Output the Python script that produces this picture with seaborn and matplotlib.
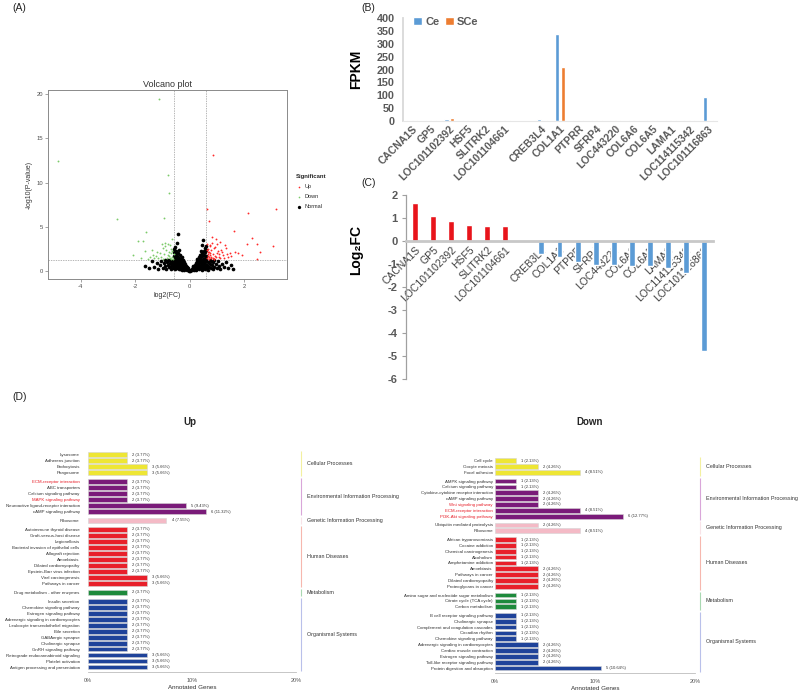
import numpy as np
import pandas as pd
import matplotlib
matplotlib.use("Agg")
import matplotlib.pyplot as plt
import seaborn as sns

# ---------------------------------------------------------------- data
# (A) volcano plot points (log2FC, -log10 P)
up_points = [(0.86, 13.1), (0.61, 7.0), (3.17, 7.0), (0.70, 5.6), (2.12, 6.6), (1.60, 4.5),
             (2.27, 3.7), (2.45, 3.0), (3.04, 2.8), (2.09, 3.0), (2.45, 1.4), (2.58, 2.2),
             (1.47, 2.0), (1.66, 2.2), (1.28, 2.9), (1.10, 3.3), (0.95, 3.6), (0.80, 3.9),
             (0.75, 2.8), (0.68, 2.5), (0.65, 2.1), (0.72, 1.8), (0.88, 2.6), (1.02, 2.3),
             (1.15, 2.4), (1.35, 1.9), (0.62, 1.5), (0.66, 1.7), (0.70, 2.2), (0.78, 1.6),
             (0.83, 1.9), (0.90, 1.4), (0.98, 2.0), (1.05, 1.6), (1.20, 1.8), (0.64, 3.1),
             (0.73, 2.9), (0.81, 3.2), (0.92, 2.7), (1.00, 3.0), (0.69, 1.35), (0.77, 1.45),
             (0.85, 1.5), (0.93, 1.7), (1.12, 1.5), (1.25, 1.45), (1.40, 1.6), (0.63, 2.4),
             (0.67, 1.9), (0.74, 2.0), (0.87, 1.4), (0.96, 1.55), (1.08, 1.9), (1.18, 2.2),
             (1.32, 2.6), (0.71, 1.6), (0.79, 2.35), (1.52, 1.7), (1.75, 2.0), (1.90, 1.8)]
down_points = [(-1.13, 19.4), (-4.82, 12.4), (-0.82, 10.9), (-0.76, 8.8), (-2.67, 5.9),
               (-0.96, 6.0), (-1.60, 4.4), (-1.90, 3.4), (-1.72, 3.4), (-2.09, 1.8),
               (-1.66, 2.3), (-0.80, 3.1), (-0.74, 2.9), (-0.90, 3.2), (-0.65, 3.6),
               (-1.00, 2.6), (-1.20, 2.1), (-1.35, 1.8), (-1.45, 1.6), (-0.70, 2.5),
               (-0.68, 2.0), (-0.75, 1.7), (-0.85, 1.5), (-0.95, 1.9), (-1.05, 1.6),
               (-1.15, 1.5), (-0.62, 1.4), (-0.66, 1.6), (-0.72, 1.45), (-0.78, 2.2),
               (-0.88, 2.4), (-0.98, 1.4), (-1.08, 2.0), (-1.25, 1.7), (-1.55, 1.4),
               (-1.40, 2.4), (-0.64, 2.3), (-0.70, 1.35), (-0.82, 1.8), (-0.92, 2.8),
               (-1.02, 3.0), (-0.60, 1.9), (-1.30, 1.45), (-1.80, 1.5)]
normal_points = [
    (-0.02, 0.05), (-0.05, 0.12), (-0.06, 0.3), (-0.09, 0.18), (-0.1, 0.45), (-0.12, 0.08),
    (-0.13, 0.32), (-0.14, 0.62), (-0.16, 0.2), (-0.17, 0.5), (-0.18, 0.8), (-0.2, 0.12),
    (-0.21, 0.38), (-0.22, 0.66), (-0.23, 0.98), (-0.25, 0.25), (-0.26, 0.52), (-0.27, 0.82),
    (-0.28, 1.15), (-0.3, 0.15), (-0.31, 0.4), (-0.32, 0.68), (-0.33, 0.95), (-0.34, 1.32),
    (-0.36, 0.28), (-0.37, 0.55), (-0.38, 0.85), (-0.39, 1.12), (-0.4, 1.5), (-0.41, 0.18),
    (-0.42, 0.42), (-0.43, 0.7), (-0.44, 1.0), (-0.45, 1.3), (-0.46, 1.72), (-0.47, 0.3),
    (-0.48, 0.58), (-0.49, 0.88), (-0.5, 1.18), (-0.51, 1.48), (-0.52, 1.95), (-0.53, 0.2),
    (-0.54, 0.45), (-0.55, 0.75), (-0.56, 1.05), (-0.56, 1.35), (-0.57, 1.65), (-0.57, 2.2),
    (-0.58, 0.6), (-0.58, 0.95), (-0.59, 1.25), (-0.59, 2.5), (-0.55, 2.0), (-0.5, 2.3),
    (-0.45, 2.05), (-0.53, 2.75), (-0.49, 3.2), (-0.45, 4.2), (-0.4, 2.4), (-0.35, 1.8),
    (-0.3, 1.6), (-0.25, 1.3),
    (0.02, 0.04), (0.04, 0.15), (0.07, 0.28), (0.08, 0.1), (0.1, 0.4), (0.11, 0.2),
    (0.13, 0.55), (0.15, 0.12), (0.15, 0.35), (0.17, 0.72), (0.19, 0.25), (0.2, 0.5),
    (0.21, 0.9), (0.23, 0.15), (0.24, 0.4), (0.25, 0.7), (0.26, 1.1), (0.28, 0.3),
    (0.29, 0.58), (0.3, 0.88), (0.31, 1.25), (0.33, 0.18), (0.34, 0.45), (0.35, 0.72),
    (0.36, 1.02), (0.37, 1.45), (0.39, 0.3), (0.4, 0.6), (0.41, 0.9), (0.42, 1.2),
    (0.43, 1.65), (0.45, 0.15), (0.46, 0.45), (0.47, 0.75), (0.48, 1.05), (0.49, 1.35),
    (0.5, 1.85), (0.51, 0.3), (0.52, 0.6), (0.53, 0.9), (0.54, 1.2), (0.55, 1.5),
    (0.55, 2.1), (0.56, 0.2), (0.57, 0.45), (0.57, 0.8), (0.58, 1.1), (0.58, 1.4),
    (0.59, 1.75), (0.59, 2.4), (0.52, 2.25), (0.46, 2.0), (0.44, 2.9), (0.49, 3.5),
    (0.54, 2.6), (0.38, 1.85), (0.32, 1.55), (0.27, 1.4), (0.4, 2.3), (0.58, 2.8),
    (0.62, 0.3), (0.64, 0.7), (0.66, 1.0), (0.68, 0.15), (0.7, 0.5), (0.72, 0.85),
    (0.74, 1.2), (0.76, 0.35), (0.8, 0.65), (0.83, 1.0), (0.86, 0.2), (0.9, 0.5),
    (0.94, 0.85), (0.98, 0.3), (1.02, 1.1), (1.06, 0.6), (1.12, 0.25), (1.18, 0.8),
    (1.25, 0.45), (1.32, 1.0), (1.4, 0.3), (1.5, 0.7), (1.58, 0.2), (0.78, 1.15), (0.88, 1.2),
    (-0.62, 0.35), (-0.64, 0.8), (-0.66, 1.1), (-0.68, 0.2), (-0.7, 0.55), (-0.72, 0.9),
    (-0.74, 1.25), (-0.77, 0.4), (-0.8, 0.7), (-0.84, 1.05), (-0.87, 0.25), (-0.9, 0.6),
    (-0.95, 0.95), (-1.0, 0.35), (-1.04, 1.15), (-1.1, 0.65), (-1.16, 0.2), (-1.22, 0.9),
    (-1.3, 0.5), (-1.4, 1.1), (-1.5, 0.35), (-1.65, 0.6), (-0.79, 1.2), (-0.92, 1.25)]

# (B)/(C) genes (" " slot = empty gap between up and down genes)
genes = ["CACNA1S", "GP5", "LOC101102392", "HSF5", "SLITRK2", "LOC101104661", " ",
         "CREB3L4", "COL1A1", "PTPRR", "SFRP4", "LOC443220", "COL6A6", "COL6A5",
         "LAMA1", "LOC114115342", "LOC101116863"]
fpkm_ce = [3, 3, 7, 3, 3, 4, None, 8, 338, 3, 3, 3, 3, 3, 3, 4, 95]
fpkm_sce = [3, 3, 11, 3, 3, 3, None, 5, 208, 3, 3, 3, 3, 3, 3, 3, 4]
logfc = [1.65, 1.06, 0.85, 0.70, 0.66, 0.66, None, -0.58, -0.72, -0.91, -1.04, -1.05,
         -1.09, -1.12, -1.19, -1.40, -4.79]

# (D) KEGG classification
group_names = ["Cellular Processes", "Environmental Information Processing",
               "Genetic Information Processing", "Human Diseases", "Metabolism",
               "Organismal Systems"]
up_terms = ["Lysosome", "Adherens junction", "Endocytosis", "Phagosome",
            "ECM-receptor interaction", "ABC transporters", "Calcium signaling pathway",
            "MAPK signaling pathway", "Neuroactive ligand-receptor interaction",
            "cAMP signaling pathway",
            "Ribosome",
            "Autoimmune thyroid disease", "Graft-versus-host disease", "Legionellosis",
            "Bacterial invasion of epithelial cells", "Allograft rejection", "Amoebiasis",
            "Dilated cardiomyopathy", "Epstein-Barr virus infection", "Viral carcinogenesis",
            "Pathways in cancer",
            "Drug metabolism - other enzymes",
            "Insulin secretion", "Chemokine signaling pathway", "Estrogen signaling pathway",
            "Adrenergic signaling in cardiomyocytes", "Leukocyte transendothelial migration",
            "Bile secretion", "GABAergic synapse", "Cholinergic synapse",
            "GnRH signaling pathway", "Retrograde endocannabinoid signaling",
            "Platelet activation", "Antigen processing and presentation"]
up_counts = [2, 2, 3, 3,
             2, 2, 2, 2, 5, 6,
             4,
             2, 2, 2, 2, 2, 2, 2, 2, 3, 3,
             2,
             2, 2, 2, 2, 2, 2, 2, 2, 2, 3, 3, 3]
up_group_sizes = [4, 6, 1, 10, 1, 12]
up_total = 53
up_red_terms = ["ECM-receptor interaction", "MAPK signaling pathway"]

down_terms = ["Cell cycle", "Oocyte meiosis", "Focal adhesion",
              "AMPK signaling pathway", "Calcium signaling pathway",
              "Cytokine-cytokine receptor interaction", "cAMP signaling pathway",
              "Wnt signaling pathway", "ECM-receptor interaction",
              "PI3K-Akt signaling pathway",
              "Ubiquitin mediated proteolysis", "Ribosome",
              "African trypanosomiasis", "Cocaine addiction", "Chemical carcinogenesis",
              "Alcoholism", "Amphetamine addiction", "Amoebiasis", "Pathways in cancer",
              "Dilated cardiomyopathy", "Proteoglycans in cancer",
              "Amino sugar and nucleotide sugar metabolism", "Citrate cycle (TCA cycle)",
              "Carbon metabolism",
              "B cell receptor signaling pathway", "Cholinergic synapse",
              "Complement and coagulation cascades", "Circadian rhythm",
              "Chemokine signaling pathway", "Adrenergic signaling in cardiomyocytes",
              "Cardiac muscle contraction", "Estrogen signaling pathway",
              "Toll-like receptor signaling pathway", "Protein digestion and absorption"]
down_counts = [1, 2, 4,
               1, 1, 2, 2, 2, 4, 6,
               2, 4,
               1, 1, 1, 1, 1, 2, 2, 2, 2,
               1, 1, 1,
               1, 1, 1, 1, 1, 2, 2, 2, 2, 5]
down_group_sizes = [3, 7, 2, 9, 3, 10]
down_total = 47
down_red_terms = ["Wnt signaling pathway", "ECM-receptor interaction",
                  "PI3K-Akt signaling pathway"]

bar_colors = dict(zip(group_names, ["#EEE634", "#7A1B79", "#F4BAC6", "#E8202A",
                                    "#1E8A3C", "#1F439A"]))
line_colors = dict(zip(group_names, ["#F3F0A0", "#D9A6D9", "#F8E3E8", "#F6B7AE",
                                     "#A9D8B2", "#B9C0EA"]))

# ---------------------------------------------------------------- figure
sns.set_theme(style="white")
plt.rcParams["font.family"] = ["Liberation Sans", "DejaVu Sans"]
plt.rcParams["axes.unicode_minus"] = False
NARROW = ["Liberation Sans Narrow", "Liberation Sans", "DejaVu Sans"]

W, H = 798, 692
fig = plt.figure(figsize=(W / 100, H / 100), dpi=100)


def px_axes(l, t, r, b):
    return fig.add_axes([l / W, 1 - b / H, (r - l) / W, (b - t) / H])


# ---------------- (A) volcano
axA = px_axes(48, 90, 287, 279)
norm_df = pd.DataFrame(normal_points, columns=["x", "y"])
up_df = pd.DataFrame(up_points, columns=["x", "y"])
down_df = pd.DataFrame(down_points, columns=["x", "y"])
sns.scatterplot(data=norm_df, x="x", y="y", color="black", s=7, linewidth=0,
                ax=axA, label="Normal", zorder=2)
sns.scatterplot(data=up_df, x="x", y="y", color="#FF2A2A", s=1.8, linewidth=0,
                ax=axA, label="Up", zorder=3)
sns.scatterplot(data=down_df, x="x", y="y", color="#7CCB6A", s=1.8, linewidth=0,
                ax=axA, label="Down", zorder=3)
for xv in (-0.585, 0.585):
    axA.axvline(xv, color="#9a9a9a", lw=0.5, ls=(0, (2, 1.5)), zorder=1)
axA.axhline(1.3, color="#9a9a9a", lw=0.5, ls=(0, (2, 1.5)), zorder=1)
axA.set_xlim(-5.2, 3.56)
axA.set_ylim(-0.9, 20.45)
axA.set_xticks([-4, -2, 0, 2])
axA.set_yticks([0, 5, 10, 15, 20])
axA.tick_params(labelsize=4.2, labelcolor="#4d4d4d", length=2, width=0.5,
                color="#7f7f7f", pad=1.5, bottom=True, left=True)
for s in axA.spines.values():
    s.set_color("#8a8a8a")
    s.set_linewidth(0.7)
axA.set_title("Volcano plot", fontsize=6.5, pad=2, color="#333333")
axA.set_xlabel("log2(FC)", fontsize=5, labelpad=2, color="#333333")
axA.set_ylabel("-log10(P-value)", fontsize=5, labelpad=3, color="#333333")
h, l = axA.get_legend_handles_labels()
order = [l.index("Up"), l.index("Down"), l.index("Normal")]
leg = axA.legend([h[i] for i in order], [l[i] for i in order], title="Significant",
                 loc="upper left", bbox_to_anchor=(291 / W, 1 - 169 / H),
                 bbox_transform=fig.transFigure, fontsize=4, title_fontsize=4.3,
                 frameon=False, markerscale=0.9, handletextpad=0.3, labelspacing=0.9,
                 handlelength=1.2, alignment="left")
leg.get_title().set_fontweight("bold")

# ---------------- (B) FPKM bars
axB = px_axes(403, 18, 717, 121)
rows = []
for g, c, s_ in zip(genes, fpkm_ce, fpkm_sce):
    if c is not None:
        rows.append((g, "Ce", c))
        rows.append((g, "SCe", s_))
dfB = pd.DataFrame(rows, columns=["gene", "sample", "fpkm"])
sns.barplot(data=dfB, x="gene", y="fpkm", hue="sample", order=genes,
            hue_order=["Ce", "SCe"], palette={"Ce": "#5B9BD5", "SCe": "#ED7D31"},
            width=0.6, gap=0.2, errorbar=None, saturation=1, ax=axB)
axB.set_xlim(-0.5, len(genes) - 0.5)
axB.set_ylim(0, 400)
axB.set_yticks(range(0, 401, 50))
axB.set_xticks(range(len(genes)))
axB.set_xticklabels(genes, rotation=45, ha="right", rotation_mode="anchor",
                    fontsize=7.5, fontweight="bold", color="#595959")
for t in axB.get_yticklabels():
    t.set_fontweight("bold")
axB.tick_params(axis="y", labelsize=7.8, labelcolor="#595959", length=0, pad=6)
axB.tick_params(axis="x", length=0, pad=2)
for k in ("top", "right"):
    axB.spines[k].set_visible(False)
axB.spines["left"].set_color("#d9d9d9")
axB.spines["left"].set_linewidth(1.3)
axB.spines["bottom"].set_color("#e6e6e6")
axB.spines["bottom"].set_linewidth(0.8)
axB.set_xlabel("")
axB.set_ylabel("FPKM", fontsize=10, fontweight="bold", color="black")
axB.yaxis.set_label_coords(-0.128, 0.5)
sns.move_legend(axB, "upper left", bbox_to_anchor=(0.0, 1.11), ncol=2, title=None,
                frameon=False, fontsize=8, handlelength=0.8, handleheight=0.8,
                handletextpad=0.3, columnspacing=0.5)
for t in axB.get_legend().get_texts():
    t.set_fontweight("bold")
    t.set_color("#595959")

# ---------------- (C) log2FC bars
axC = px_axes(406, 194.7, 713, 378.7)
dfC = pd.DataFrame([(g, v) for g, v in zip(genes, logfc) if v is not None],
                   columns=["gene", "logfc"])
palC = {g: ("#E8141B" if v > 0 else "#5B9BD5") for g, v in zip(dfC.gene, dfC.logfc)}
sns.barplot(data=dfC, x="gene", y="logfc", hue="gene", order=genes,
            hue_order=list(dfC.gene), palette=palC, width=0.33, dodge=False,
            errorbar=None, legend=False, saturation=1, ax=axC)
axC.set_xlim(-0.5, len(genes) - 0.5)
axC.set_ylim(-6, 2)
axC.set_yticks(range(-6, 3))
axC.spines["bottom"].set_position(("data", 0))
axC.spines["bottom"].set_color("#c8c8c8")
axC.spines["bottom"].set_linewidth(2)
axC.spines["left"].set_color("#a0a0a0")
axC.spines["left"].set_linewidth(0.9)
for k in ("top", "right"):
    axC.spines[k].set_visible(False)
axC.set_xticks(range(len(genes)))
axC.set_xticklabels(genes, rotation=45, ha="right", rotation_mode="anchor",
                    fontsize=7.5, color="#404040")
axC.tick_params(axis="x", length=0, pad=3)
axC.tick_params(axis="y", labelsize=8, labelcolor="#595959", length=3, width=0.8,
                color="#a0a0a0", direction="out", left=True, pad=3)
for t in axC.get_yticklabels():
    t.set_fontweight("bold")
axC.set_xlabel("")
axC.set_ylabel("Log₂FC", fontsize=10, fontweight="bold", color="black")
axC.yaxis.set_label_coords(-0.14, 0.70)


# ---------------- (D) KEGG classification
def kegg_panel(rect, terms, counts, sizes, total, red_terms, tick_pad, ylim):
    ax = px_axes(*rect)
    groups, ypos = [], []
    pos = 0.0
    spans = []
    for gname, n in zip(group_names, sizes):
        start = pos
        for _ in range(n):
            groups.append(gname)
            ypos.append(pos)
            pos += 1
        spans.append((gname, start, pos - 1))
        pos += 0.5
    pct = [c / total * 100 for c in counts]
    df = pd.DataFrame({"pct": pct, "y": ypos, "group": groups})
    sns.barplot(data=df, x="pct", y="y", hue="group", orient="h", native_scale=True,
                palette=bar_colors, dodge=False, width=0.8, legend=False,
                edgecolor="#d4d4d4", linewidth=0.4, errorbar=None, saturation=1, ax=ax)
    for c, p, y in zip(counts, pct, ypos):
        ax.text(p + 0.5, y, f"{c} ({p:.2f}%)", va="center", ha="left", fontsize=3.0,
                color="#333333", family=NARROW)
    for gname, a, b in spans:
        ax.plot([20.5, 20.5], [a - 0.6, b + 0.6], color=line_colors[gname], lw=0.8,
                clip_on=False, solid_capstyle="butt")
        ax.text(21.05, (a + b) / 2, gname, va="center", ha="left", fontsize=3.9,
                color="#333333", family=NARROW, clip_on=False)
    ax.set_xlim(0, 20)
    ax.set_ylim(*ylim)
    ax.set_yticks(ypos)
    ax.set_yticklabels(terms, fontsize=3.2, family=NARROW, color="#333333")
    for t in ax.get_yticklabels():
        if t.get_text() in red_terms:
            t.set_color("#E8202A")
    ax.set_xticks([0, 10, 20])
    ax.set_xticklabels(["0%", "10%", "20%"], fontsize=4, color="#555555", family=NARROW)
    ax.tick_params(axis="y", length=0, pad=tick_pad)
    ax.tick_params(axis="x", length=0, pad=4)
    for k in ("top", "right", "left"):
        ax.spines[k].set_visible(False)
    ax.spines["bottom"].set_color("#bdbdbd")
    ax.spines["bottom"].set_linewidth(0.6)
    ax.set_xlabel("Annotated Genes", fontsize=4.5, color="#333333", labelpad=2,
                  family=NARROW)
    ax.set_ylabel("")
    return ax


kegg_panel((88, 449, 296, 672), up_terms, up_counts, up_group_sizes, up_total,
           up_red_terms, 6.0, (36.33, -0.95))
kegg_panel((495, 456, 695, 673), down_terms, down_counts, down_group_sizes, down_total,
           down_red_terms, 1.5, (36.35, -0.8))

fig.text(190 / W, 1 - 422 / H, "Up", ha="center", va="center", fontsize=7,
         fontweight="bold")
fig.text(590 / W, 1 - 422 / H, "Down", ha="center", va="center", fontsize=7,
         fontweight="bold")

# panel letters
for lab, x, y in [("(A)", 12, 3), ("(B)", 361, 3), ("(C)", 361, 178), ("(D)", 12, 392)]:
    fig.text(x / W, 1 - y / H, lab, ha="left", va="top", fontsize=7.5, color="#222222")

fig.savefig("out.png", dpi=100)
